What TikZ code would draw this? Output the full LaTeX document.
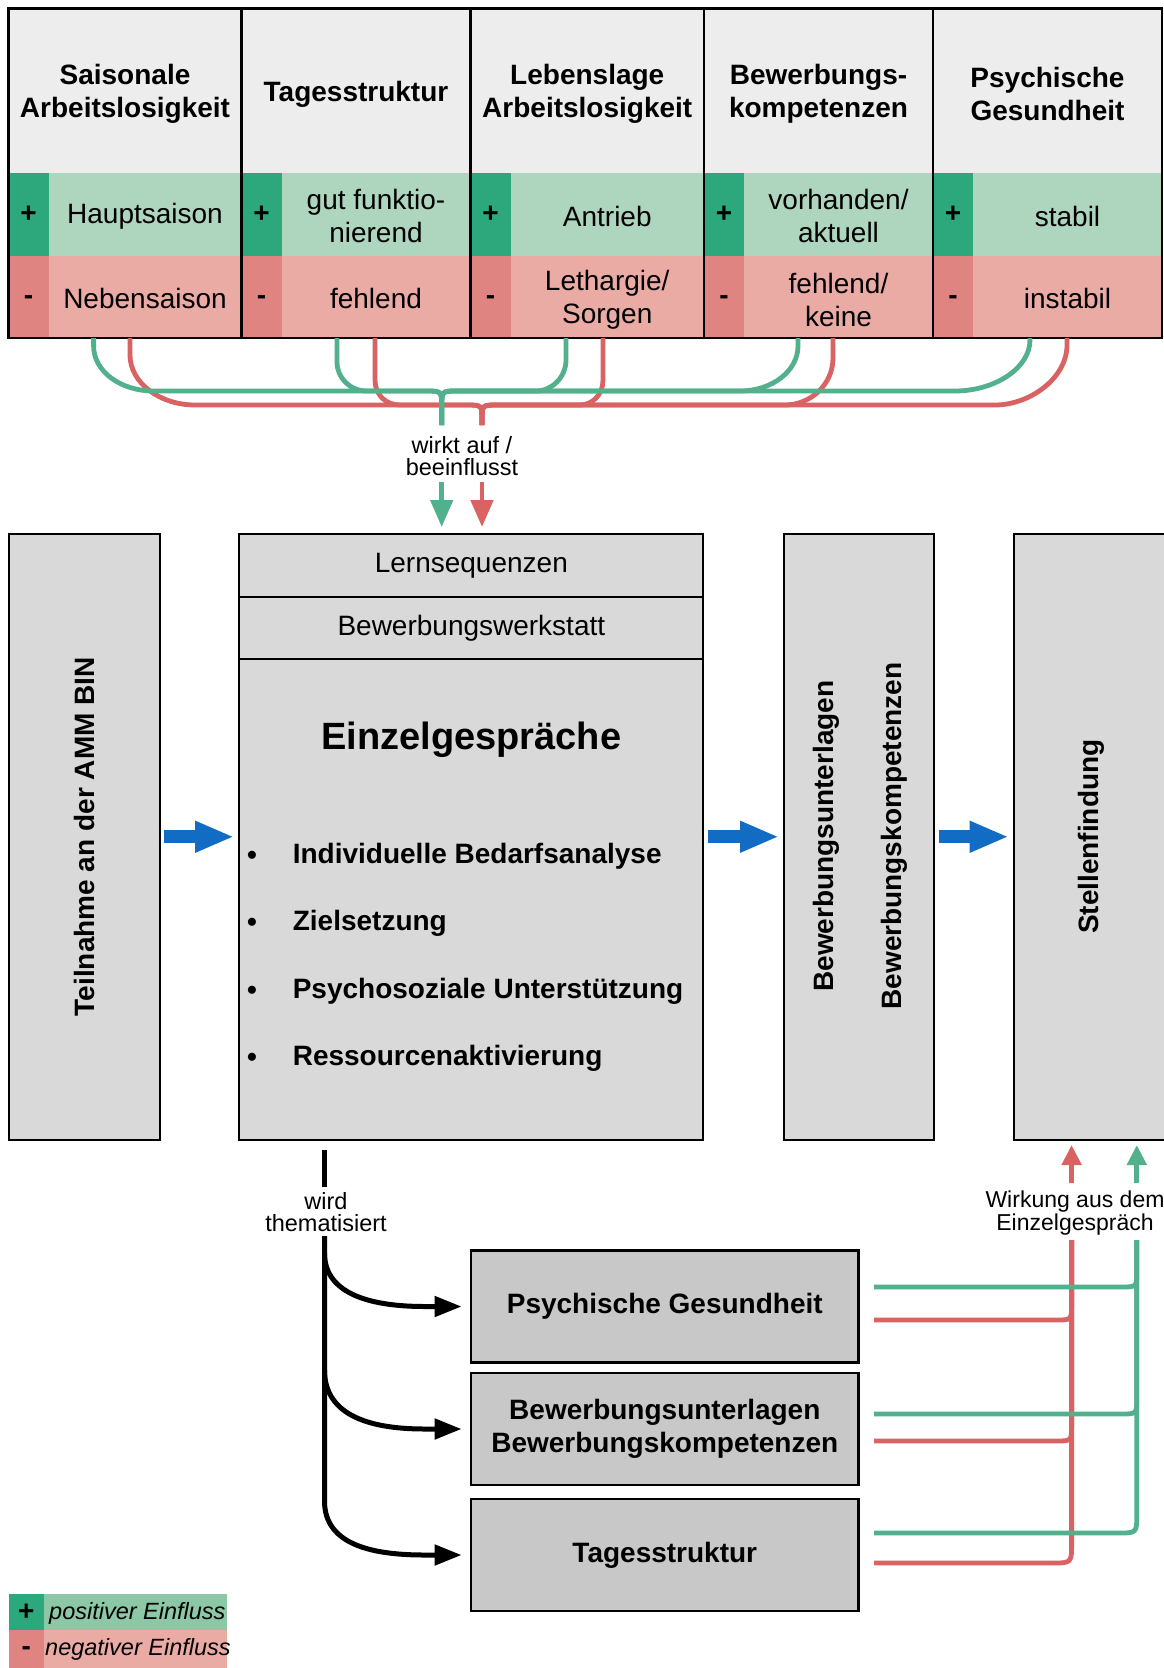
\documentclass[tikz,border=0pt]{standalone}
\usepackage{fontspec}
\setmainfont{Liberation Sans}
\usetikzlibrary{arrows.meta,calc}
\definecolor{hdrgray}{RGB}{237,237,237}
\definecolor{gLight}{RGB}{174,213,190}
\definecolor{gDark}{RGB}{44,168,124}
\definecolor{rLight}{RGB}{235,171,165}
\definecolor{rDark}{RGB}{224,132,130}
\definecolor{gLine}{RGB}{82,176,140}
\definecolor{rLine}{RGB}{217,98,98}
\definecolor{boxgray}{RGB}{217,217,217}
\definecolor{boxgrayB}{RGB}{200,200,200}
\definecolor{blueA}{RGB}{18,108,196}
\definecolor{legG}{RGB}{140,199,166}
\tikzset{
  hdr/.style={font=\fontsize{28}{33}\selectfont\bfseries, align=center, inner sep=0},
  cell/.style={font=\fontsize{28}{33}\selectfont, align=center, inner sep=0},
  sgn/.style={font=\fontsize{28}{33}\selectfont\bfseries, inner sep=0},
  boldtxt/.style={font=\fontsize{28}{33}\selectfont\bfseries, inner sep=0},
  small/.style={font=\fontsize{23.5}{22}\selectfont, align=center, inner sep=0},
  leg/.style={font=\fontsize{23.5}{26}\selectfont\itshape, inner sep=0},
  mbox/.style={draw=black, line width=2, fill=boxgray, inner sep=0},
  tbox/.style={draw=black, line width=2.8, fill=boxgrayB, inner sep=0, minimum width=387.6, minimum height=112,
     font=\fontsize{28}{33}\selectfont\bfseries, align=center},
  gl/.style={draw=gLine, line width=4.8},
  rl/.style={draw=rLine, line width=4.8},
  bl/.style={draw=black, line width=5},
  bluearrow/.style={draw=blueA, line width=12.7, -{Triangle[length=39,width=29]}, shorten <=3.5, shorten >=4.3},
}
\newcommand\mkcol[7]{%
  \fill[hdrgray] (#2,8.5) rectangle (#3,173);
  \fill[gLight] (#2,173) rectangle (#3,256);
  \fill[gDark] (#2,173) rectangle ({#2+40},256);
  \fill[rLight] (#2,256) rectangle (#3,338);
  \fill[rDark] (#2,256) rectangle ({#2+40},338);
  \node[hdr] (h#1) at ({(#2+#3)/2},94) {#4};
  \node[sgn] (sp#1) at ({#2+20},214) {+};
  \node[sgn] (sm#1) at ({#2+20},300) {-};
  \node[cell] (tp#1) at ({(#2+40+#3)/2},216) {#5};
  \node[cell] (tm#1) at ({(#2+40+#3)/2},#7) {#6};
}
\begin{document}
\begin{tikzpicture}[x=1pt,y=-1pt]
\useasboundingbox (0,0) rectangle (1164,1668);
\fill[white] (0,0) rectangle (1164,1668);

% ---------- top table ----------
\mkcol{1}{8.5}{241.5}{Saisonale\\Arbeitslosigkeit}{Hauptsaison}{Nebensaison}{298}
\mkcol{2}{241.5}{470.5}{Tagesstruktur}{gut funktio-\\nierend}{fehlend}{298}
\mkcol{3}{470.5}{704}{Lebenslage\\Arbeitslosigkeit}{Antrieb}{Lethargie/\\Sorgen}{299.5}
\mkcol{4}{704}{933}{Bewerbungs-\\kompetenzen}{vorhanden/\\aktuell}{fehlend/\\keine}{299.5}
\mkcol{5}{933}{1162}{Psychische\\Gesundheit}{stabil}{instabil}{298}
\draw[line width=2.5] (8.5,8.5) rectangle (1162,338);
\foreach \xd in {241.5,470.5,704,933} \draw[line width=2.5] (\xd,8.5) -- (\xd,338);

% ---------- top connectors ----------
\coordinate (g1) at (93.6,338);
\coordinate (g2) at (337,338);
\coordinate (g3) at (566,338);
\coordinate (g4) at (798,338);
\coordinate (g5) at (1030,338);
\coordinate (r1) at (130,338);
\coordinate (r2) at (375,338);
\coordinate (r3) at (603,338);
\coordinate (r4) at (833,338);
\coordinate (r5) at (1067,338);
\coordinate (gJ) at (441.7,425);
\coordinate (rJ) at (482,425);

\draw[rl] (r1) -- (130,355) .. controls (130,383) and (160,405) .. (195,405) -- (466,405) .. controls (482,405) .. (482,420) -- (rJ);
\draw[rl] (r2) -- (375,380) .. controls (375,395) and (386,405) .. (400,405) -- (466,405) .. controls (482,405) .. (482,420) -- (rJ);
\draw[rl] (r3) -- (603,380) .. controls (603,395) and (592,405) .. (580,405) -- (498,405) .. controls (482,405) .. (482,420) -- (rJ);
\draw[rl] (r4) -- (833,358) .. controls (833,385) and (810,405) .. (785,405) -- (498,405) .. controls (482,405) .. (482,420) -- (rJ);
\draw[rl] (r5) -- (1067,345) .. controls (1067,378) and (1030,405) .. (995,405) -- (498,405) .. controls (482,405) .. (482,420) -- (rJ);

\draw[gl] (g1) -- (93.6,346) .. controls (93.6,371) and (120,391) .. (153.6,391) -- (426,391) .. controls (441.7,391) .. (441.7,407) -- (gJ);
\draw[gl] (g2) -- (337,362) .. controls (337,378) and (350,391) .. (367,391) -- (426,391) .. controls (441.7,391) .. (441.7,407) -- (gJ);
\draw[gl] (g3) -- (566,360) .. controls (566,377) and (552,391) .. (536,391) -- (457.4,391) .. controls (441.7,391) .. (441.7,407) -- (gJ);
\draw[gl] (g4) -- (798,346) .. controls (798,371) and (772,391) .. (740,391) -- (457.4,391) .. controls (441.7,391) .. (441.7,407) -- (gJ);
\draw[gl] (g5) -- (1030,340) .. controls (1030,368) and (995,391) .. (955,391) -- (457.4,391) .. controls (441.7,391) .. (441.7,407) -- (gJ);

\node[small] (wirkt) at (462,456) {wirkt auf /\\beeinflusst};

% ---------- main boxes ----------
\node[mbox, minimum width=151.1, minimum height=605.5] (teil) at (84.05,836.75) {};
\node[boldtxt, rotate=90] (teilT) at (teil.center) {Teilnahme an der AMM BIN};

\node[mbox, minimum width=463.9, minimum height=605.5] (einz) at (471.35,836.75) {};
\node[mbox, minimum width=463.9, minimum height=63, font=\fontsize{28}{33}\selectfont] (lern) at (471.35,565.5) {Lernsequenzen};
\node[mbox, minimum width=463.9, minimum height=61.6, font=\fontsize{28}{33}\selectfont] (werk) at (471.35,627.8) {Bewerbungswerkstatt};
\node[font=\fontsize{38}{44}\selectfont\bfseries, inner sep=0] (einzT) at (471.35,740) {Einzelgespräche};
\foreach \k/\yy/\tt in {1/853/Individuelle Bedarfsanalyse, 2/920/Zielsetzung, 3/988/Psychosoziale Unterstützung, 4/1055.5/Ressourcenaktivierung}{
  \node[boldtxt] (bu\k) at (252,{\yy+4.5}) {\textbullet};
  \node[boldtxt, anchor=west, text height=20.5, text depth=5.5] (it\k) at (292.6,{\yy+2.5}) {\tt};
}

\node[mbox, minimum width=149.7, minimum height=605.5] (bew) at (859.15,836.75) {};
\node[boldtxt, rotate=90] (bewA) at (826,836) {Bewerbungsunterlagen};
\node[boldtxt, rotate=90] (bewB) at (894,836) {Bewerbungskompetenzen};

\node[mbox, minimum width=155, minimum height=605.5] (stel) at (1091.5,836.75) {};
\node[boldtxt, rotate=90] (stelT) at (1091.7,836.75) {Stellenfindung};

\draw[bluearrow] (teil.east) -- (einz.west);
\draw[bluearrow] (einz.east) -- (bew.west);
\draw[bluearrow] (bew.east) -- (stel.west);

% arrows into main box
\coordinate (gS) at (441.7,482);
\coordinate (rS) at (482,482);
\draw[gl, -{Triangle[length=27,width=22]}, shorten >=6] (gS) -- (gS |- lern.north);
\draw[rl, -{Triangle[length=27,width=22]}, shorten >=6] (rS) -- (rS |- lern.north);

% ---------- bottom part ----------
\node[tbox] (pA) at (664.8,1306.5) {Psychische Gesundheit};
\node[tbox] (pB) at (664.8,1429) {Bewerbungsunterlagen\\Bewerbungskompetenzen};
\node[tbox] (pC) at (664.8,1555) {Tagesstruktur};

\coordinate (tA) at (324.5,1150);
\coordinate (tB) at (324.5,1187);
\coordinate (tC) at (324.5,1236);
\coordinate (bA) at (324.5,1253);
\coordinate (bB) at (324.5,1370);
\draw[bl] (tA) -- (tB);
\node[small] (wird) at (326,1212) {wird\\thematisiert};
\draw[bl, -{Triangle[length=27,width=20]}, shorten >=8] (tC) -- (324.5,1501) .. controls (324.5,1546) and (375,1555) .. (425,1555) -- (pC.west);
\draw[bl, -{Triangle[length=27,width=20]}, shorten >=8] (bA) .. controls (324.5,1296) and (375,1306.5) .. (425,1306.5) -- (pA.west);
\draw[bl, -{Triangle[length=27,width=20]}, shorten >=8] (bB) .. controls (324.5,1418) and (375,1429) .. (425,1429) -- (pB.west);

% right-side feedback
\coordinate (gsA) at (874,1287);
\coordinate (rsA) at (874,1320);
\coordinate (gsB) at (874,1414);
\coordinate (rsB) at (874,1441);
\coordinate (gsC) at (874,1533);
\coordinate (rsC) at (874,1563);
\coordinate (rTop) at (1071.6,1240);
\coordinate (gTop) at (1136.8,1240);
\coordinate (rArr) at (1071.6,1183);
\coordinate (gArr) at (1136.8,1183);

\draw[rl] (rsA) -- (1056,1320) .. controls (1071.6,1320) .. (1071.6,1304) -- (rTop);
\draw[rl] (rsB) -- (1056,1441) .. controls (1071.6,1441) .. (1071.6,1425) -- (rTop);
\draw[rl] (rsC) -- (1052,1563) .. controls (1071.6,1563) .. (1071.6,1543) -- (rTop);
\draw[gl] (gsA) -- (1121,1287) .. controls (1136.8,1287) .. (1136.8,1271) -- (gTop);
\draw[gl] (gsB) -- (1121,1414) .. controls (1136.8,1414) .. (1136.8,1398) -- (gTop);
\draw[gl] (gsC) -- (1118,1533) .. controls (1136.8,1533) .. (1136.8,1514) -- (gTop);

\node[small, font=\fontsize{23}{22.5}\selectfont] (wirk) at (1075,1213) {Wirkung aus dem\\Einzelgespräch};
\draw[rl, -{Triangle[length=20,width=19]}, shorten >=4.5] (rArr) -- (rArr |- stel.south);
\draw[gl, -{Triangle[length=20,width=19]}, shorten >=4.5] (gArr) -- (gArr |- stel.south);

% ---------- legend ----------
\fill[legG] (8.5,1594) rectangle (227,1630);
\fill[gDark] (8.5,1594) rectangle (44,1630);
\fill[rLight] (8.5,1630) rectangle (227,1668);
\fill[rDark] (8.5,1630) rectangle (44,1668);
\node[sgn] (lp) at (26.2,1612) {+};
\node[sgn] (lm) at (26.2,1651) {-};
\node[leg, anchor=west] (lpt) at (49,1613) {positiver Einfluss};
\node[leg, anchor=west] (lmt) at (45,1649) {negativer Einfluss};
\end{tikzpicture}
\end{document}
